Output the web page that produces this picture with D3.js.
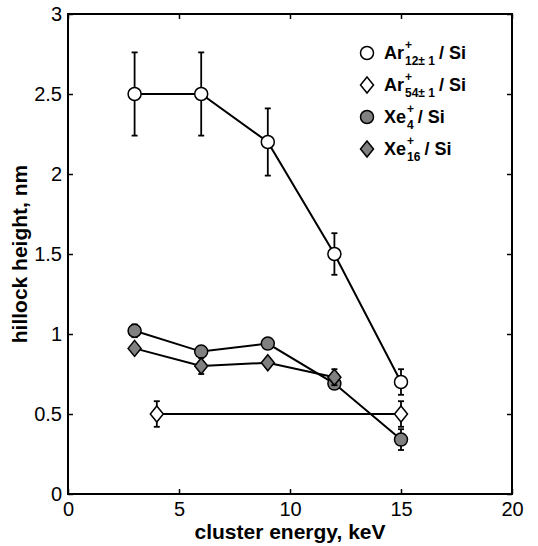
<!DOCTYPE html>
<html><head><meta charset="utf-8">
<script src="https://cdn.jsdelivr.net/npm/d3@7"></script>
<style>body{margin:0;background:#fff}text{font-family:"Liberation Sans",Arial,sans-serif}</style>
</head><body><svg id="c" width="538" height="546"></svg>
<script>
const xTicks = [0, 5, 10, 15, 20];
const yTicks = [0, 0.5, 1, 1.5, 2, 2.5, 3];
const yTickLabels = ["0", "0.5", "1", "1.5", "2", "2.5", "3"];

const ar12X = [3, 6, 9, 12, 15];
const ar12Y = [2.5, 2.5, 2.2, 1.5, 0.7];
const ar12Err = [0.26, 0.26, 0.21, 0.13, 0.08];

const ar54X = [4, 15];
const ar54Y = [0.5, 0.5];
const ar54Err = [0.08, 0.08];

const xe4X = [3, 6, 9, 12, 15];
const xe4Y = [1.02, 0.89, 0.94, 0.69, 0.34];
const xe4Err = [0.04, 0.02, 0.02, 0.03, 0.065];

const xe16X = [3, 6, 9, 12];
const xe16Y = [0.91, 0.80, 0.82, 0.73];
const xe16Err = [0.02, 0.05, 0.02, 0.05];

const series = [
  {name: "Ar", sub: "12\u00B1 1", x: ar12X, y: ar12Y, e: ar12Err, shape: "circle", fill: "#fff"},
  {name: "Ar", sub: "54\u00B1 1", x: ar54X, y: ar54Y, e: ar54Err, shape: "diamond", fill: "#fff"},
  {name: "Xe", sub: "4", x: xe4X, y: xe4Y, e: xe4Err, shape: "circle", fill: "#808080"},
  {name: "Xe", sub: "16", x: xe16X, y: xe16Y, e: xe16Err, shape: "diamond", fill: "#808080"}
];

const svg = d3.select("#c");
const L = 68, R = 512, T = 14, B = 494;
const x = d3.scaleLinear().domain([0, 20]).range([L, R]);
const y = d3.scaleLinear().domain([0, 3]).range([B, T]);

const g = svg.append("g");
g.append("g").attr("transform", `translate(0,${B})`)
  .call(d3.axisBottom(x).tickValues(xTicks).tickSize(-5).tickPadding(6).tickFormat(d3.format("d")))
  .call(s => { s.select(".domain").remove(); s.selectAll("text").attr("font-size", 20).attr("dy", "0.82em"); });
g.append("g").attr("transform", `translate(0,${T})`)
  .call(d3.axisTop(x).tickValues(xTicks).tickSize(-5).tickFormat(""))
  .call(s => s.select(".domain").remove());
g.append("g").attr("transform", `translate(${L},0)`)
  .call(d3.axisLeft(y).tickValues(yTicks).tickSize(-5).tickPadding(6).tickFormat((d, i) => yTickLabels[i]))
  .call(s => { s.select(".domain").remove(); s.selectAll("text").attr("font-size", 20); });
g.append("g").attr("transform", `translate(${R},0)`)
  .call(d3.axisRight(y).tickValues(yTicks).tickSize(-5).tickFormat(""))
  .call(s => s.select(".domain").remove());
g.selectAll(".tick line").attr("stroke", "#000").attr("stroke-width", 1.5);
g.selectAll(".tick text").attr("fill", "#000").attr("font-family", "Liberation Sans, Arial, sans-serif");
svg.append("rect").attr("x", L).attr("y", T).attr("width", R - L).attr("height", B - T)
  .attr("fill", "none").attr("stroke", "#000").attr("stroke-width", 2);

svg.append("text").attr("x", x(10)).attr("y", 539).attr("text-anchor", "middle")
  .attr("font-size", 21).attr("font-weight", "bold").text("cluster energy, keV");
svg.append("text").attr("transform", `translate(27,${y(1.5)}) rotate(-90)`).attr("text-anchor", "middle")
  .attr("font-size", 21).attr("font-weight", "bold").text("hillock height, nm");

const line = d3.line().x(d => x(d[0])).y(d => y(d[1]));
const diamond = (cx, cy) => `M${cx},${cy - 8}L${cx + 6.5},${cy}L${cx},${cy + 8}L${cx - 6.5},${cy}Z`;

function marker(sel, s, cx, cy) {
  if (s.shape === "circle") {
    sel.append("circle").attr("cx", cx).attr("cy", cy).attr("r", 6.5)
      .attr("fill", s.fill).attr("stroke", "#000").attr("stroke-width", 1.5);
  } else {
    sel.append("path").attr("d", diamond(cx, cy))
      .attr("fill", s.fill).attr("stroke", "#000").attr("stroke-width", 1.5);
  }
}

series.forEach(s => {
  const pts = s.x.map((xv, i) => [xv, s.y[i], s.e[i]]);
  const sg = svg.append("g");
  sg.append("path").attr("d", line(pts)).attr("fill", "none").attr("stroke", "#000").attr("stroke-width", 2);
  pts.forEach(p => {
    const cx = x(p[0]);
    sg.append("line").attr("x1", cx).attr("x2", cx).attr("y1", y(p[1] - p[2])).attr("y2", y(p[1] + p[2]))
      .attr("stroke", "#000").attr("stroke-width", 1.8);
    [p[1] - p[2], p[1] + p[2]].forEach(v => sg.append("line").attr("x1", cx - 3).attr("x2", cx + 3)
      .attr("y1", y(v)).attr("y2", y(v)).attr("stroke", "#000").attr("stroke-width", 1.8));
  });
  pts.forEach(p => marker(sg, s, x(p[0]), y(p[1])));
});

// legend
const lx = 367, ly = [53, 85, 117, 149];
series.forEach((s, i) => {
  const lg = svg.append("g");
  marker(lg, s, lx, ly[i]);
  const nm = lg.append("text").attr("x", lx + 17).attr("y", ly[i] + 6).attr("font-size", 18).attr("font-weight", "bold").text(s.name);
  const nameW = nm.node().getComputedTextLength();
  const sx = lx + 17 + nameW + 1;
  lg.append("text").attr("x", sx).attr("y", ly[i] - 4).attr("font-size", 12).attr("font-weight", "bold").text("+");
  const sub = lg.append("text").attr("x", sx).attr("y", ly[i] + 12).attr("font-size", 12).attr("font-weight", "bold").text(s.sub);
  const subW = sub.node().getComputedTextLength();
  lg.append("text").attr("x", sx + subW + 4).attr("y", ly[i] + 6).attr("font-size", 18).attr("font-weight", "bold").text("/ Si");
});
</script></body></html>
